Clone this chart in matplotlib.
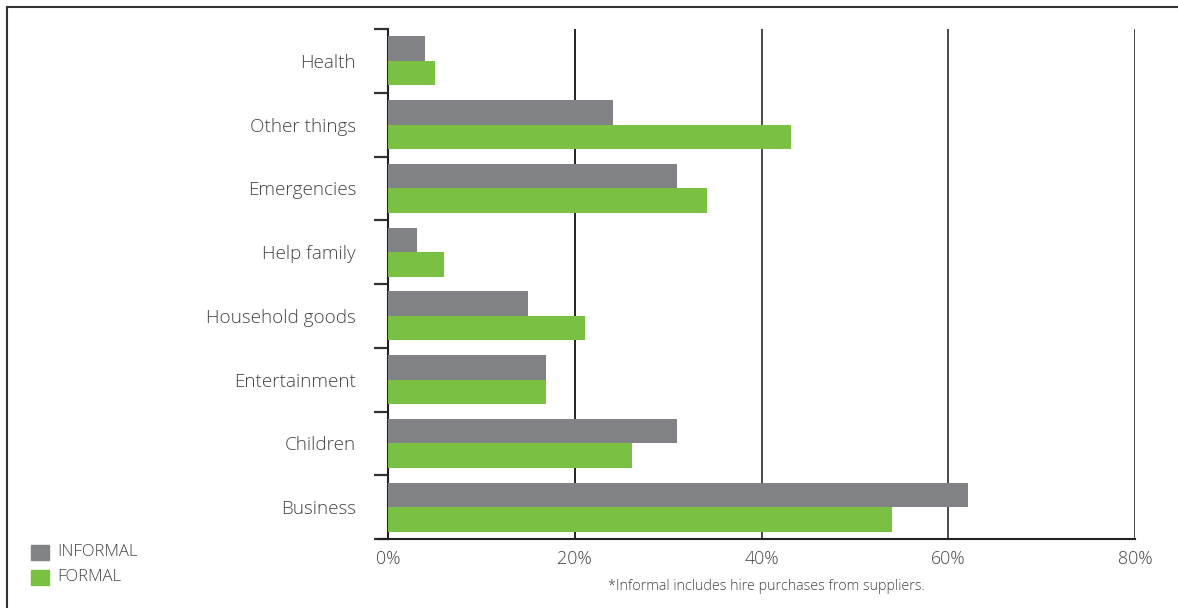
import matplotlib
matplotlib.use("Agg")
import matplotlib.pyplot as plt
from matplotlib.lines import Line2D
from matplotlib.patches import Rectangle
import numpy as np

categories = ["Business", "Children", "Entertainment", "Household goods",
              "Help family", "Emergencies", "Other things", "Health"]
informal = [62.1, 31.0, 16.9, 15.0, 3.1, 30.9, 24.1, 4.0]
formal = [54.0, 26.1, 16.9, 21.1, 6.0, 34.2, 43.2, 5.0]
xticks = [0, 20, 40, 60, 80]
xticklabels = ["0%", "20%", "40%", "60%", "80%"]
series_names = ["INFORMAL", "FORMAL"]
footnote = "*Informal includes hire purchases from suppliers."

GRAY = "#818286"
GREEN = "#7AC143"
TEXT = "#444444"

plt.rcParams["font.family"] = ["Open Sans", "DejaVu Sans"]
plt.rcParams["font.weight"] = "light"

fig = plt.figure(figsize=(11.78, 6.08), dpi=100)
ax = fig.add_axes([388/1178, 1-539/608, (1135-388)/1178, (539-29)/608])

y = np.arange(len(categories))
h = 0.385
ax.barh(y, informal, height=h, align="edge", color=GRAY, zorder=3, label=series_names[0])
ax.barh(y - h, formal, height=h, align="edge", color=GREEN, zorder=3, label=series_names[1])

ax.set_xlim(0, 80)
ax.set_ylim(-0.5, len(categories) - 0.5)

for xv in xticks[1:]:
    ax.axvline(xv, color="#222222" if xv == 20 else "#4a4a4a", lw=1.4, zorder=1)

ax.set_xticks(xticks)
ax.set_xticklabels(xticklabels, fontsize=12.8, color=TEXT)
ax.tick_params(axis="x", length=0, pad=8)

ax.set_yticks(y)
ax.set_yticklabels(categories, fontsize=13.6, color=TEXT)
ax.tick_params(axis="y", which="major", length=0, pad=23)
ax.set_yticks(np.arange(-0.5, len(categories), 1.0), minor=True)
ax.tick_params(axis="y", which="minor", length=10, width=1.6, color="#333333")

for s in ["top", "right"]:
    ax.spines[s].set_visible(False)
for s in ["left", "bottom"]:
    ax.spines[s].set_linewidth(1.5)
    ax.spines[s].set_color("#222222")

# extend bottom line left by tick length
fig.add_artist(Line2D([378/1178, 388/1178], [1-539/608, 1-539/608], color="#222222", lw=1.5))

# Legend (manual patches)
for i, (name, col) in enumerate(zip(series_names, [GRAY, GREEN])):
    yc = 552 + i * 25
    fig.add_artist(Rectangle((31/1178, 1-(yc+7.5)/608), 18/1178, 15/608, color=col,
                             transform=fig.transFigure))
    fig.text(57/1178, 1-yc/608, name, fontsize=12.1, color=TEXT, va="center", ha="left")

fig.text(766/1178, 1-587/608, footnote, fontsize=10.3, color=TEXT, ha="center", va="center")

# Outer frame (top and left)
fig.add_artist(Line2D([7/1178, 7/1178], [0, 1-7/608], color="#333333", lw=1.5))
fig.add_artist(Line2D([7/1178, 1], [1-7/608, 1-7/608], color="#333333", lw=1.5))

fig.savefig("out.png", dpi=100)
